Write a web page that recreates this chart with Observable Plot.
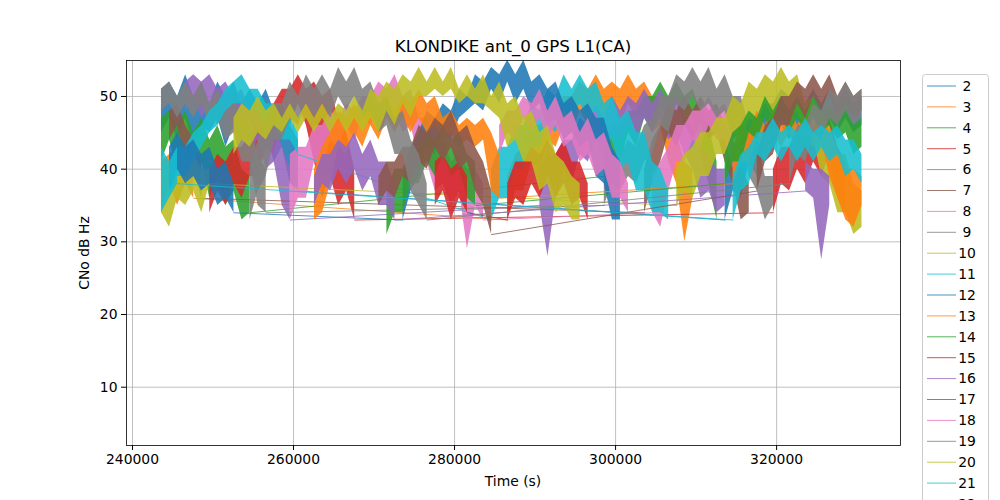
<!DOCTYPE html>
<html><head><meta charset="utf-8">
<script src="https://cdn.jsdelivr.net/npm/d3@7"></script>
<script src="https://cdn.jsdelivr.net/npm/@observablehq/plot@0.6"></script>
<style>
body{margin:0;background:#fff;}
#chart{position:relative;width:1000px;height:500px;overflow:hidden;}
</style></head><body><div id="chart"></div>
<script>
// Tick values
const xTicks = [240000, 260000, 280000, 300000, 320000];
const yTicks = [10, 20, 30, 40, 50];
const tab10 = ["#1f77b4","#ff7f0e","#2ca02c","#d62728","#9467bd","#8c564b","#e377c2","#7f7f7f","#bcbd22","#17becf"];
const legendPrns = d3.range(2, 23);

// Each PRN: passes [start time (s), upper CNo every 1000 s, lower CNo every 1000 s]
const prn02 = [[243600,[51,52,50,53,50,52,49,52,50,52,49,51,49,51,48,49,46,44],[45,47,44,47,43,46,45,47,43,46,44,47,43,45,41,43,38,37]],
               [313600,[40,43,44,47,47,49,49,51,50,51,49,51,49,51,49,51,49,50],[33,37,36,41,39,44,43,46,44,46,44,47,45,47,45,47,45,46]]];
const prn03 = [[243600,[41,42,40,42,39],[34,38,35,38,36]],
               [286600,[39,42,43,46,46,48,48,50,50,52,51,53,51,52,51,53,51,52,50,50,47,45,41,40],[33,37,37,41,40,44,43,46,45,48,46,49,47,49,46,49,47,48,45,46,41,38,30,36]]];
const prn04 = [[243600,[47,48,46,48,45,47,44,46,43,44,40,39],[41,44,40,42,39,41,36,39,35,37,33,34]],
               [298600,[44,46,46,48,48,50,50,52,50,52,50,51,48,46,41],[39,42,41,45,43,47,45,49,47,49,46,47,42,38,33]]];
const prn05 = [[249600,[40,42,41,43,43,45,46,48,49,51,51,53,51,52,50,51,47,45,40],[34,37,35,38,36,39,39,43,42,47,46,49,46,41,36,39,35,37,33]],
               [319600,[40,43,43,45,44,46,45,47,43,41],[34,38,37,40,38,41,39,42,36,34]]];
const prn06 = [[246600,[52,53,52,53,51,52,50,51,48,49,46,47,43,40],[48,50,47,49,46,48,45,46,43,44,40,41,35,33]],
               [290600,[40,42,42,44,44,47,46,49,47,50,48,50,49,51,49,51,49,50,47,46,43,42,40,40],[35,28,36,40,38,42,41,44,42,45,44,46,44,47,45,47,44,45,42,40,36,37,34,35]]];
const prn07 = [[244600,[48,49,46,44,41],[44,46,41,40,36]],
               [303600,[40,44,46,49,48,50,48,50,48,49,46,44,40,38],[34,38,41,45,43,46,44,46,44,45,41,38,33,34]]];
const prn08 = [[259600,[42,43,43,46,46,48,47,49,48,50,50,52,51,53,50,51,47,47,43,44,41,42,40,40,38],[33,36,36,41,40,44,43,46,44,47,46,49,47,48,45,46,41,41,37,38,35,37,29,35,33]],
               [304600,[39,41,43,46,46,48,48,50,48,49,46],[34,32,37,41,41,44,43,46,44,44,40]]];
const prn09 = [[243600,[51,52,50,52,50,52,49,51,48,50,47,46,42,40],[48,49,47,49,47,49,46,47,44,45,41,41,35,34]],
               [298600,[40,42,42,44,43,46,47,50,50,53,52,54,52,54,51,53,50,50,46,44,39,39],[35,38,37,39,38,41,42,46,45,49,48,50,48,49,47,48,44,45,39,37,33,35]]];
const prn10 = [[243600,[42,40,42,41,42,40,40],[34,32,36,35,37,34,38]],
               [307600,[40,42,43,45,45,47,47,50,49,52,51,53,52,54,52,53,49,50,46,46,42,42,38,37],[35,37,36,39,39,42,42,45,44,47,46,49,47,49,47,48,44,44,39,38,34,34,31,32]]];
const prn11 = [[244600,[42,43,43,45,46,48,49,51,52,53,51,51,49,49,47,47,45],[37,39,39,41,43,45,46,48,49,49,48,48,46,46,44,44,42]],
               [284600,[40,43,43,46,46,49,48,51,50,53,51,53,51,52,49,50,47,48,45,45,41,40,37],[33,36,36,40,40,43,43,46,45,48,47,49,47,48,44,44,40,41,37,37,34,34,33]]];
const prn12 = [[244600,[43,45,43,44,42,43,40,41,38],[37,40,38,39,37,38,35,36,34]],
               [273600,[39,43,45,48,47,49,48,51,50,53,52,54,53,55,53,55,52,53,51,52,49,50,48,49,47,47,43,41],[33,37,39,43,42,45,44,47,48,49,48,51,49,52,49,51,48,49,46,47,44,45,43,44,39,38,33,33]]];
const prn13 = [[262600,[40,43,45,48,47,49,47,50,48,50,48,50,49,51,49,50,47,48,46,47,46,47,45,42],[33,34,38,43,42,45,43,46,44,47,45,47,45,47,45,46,44,45,43,44,43,44,37,36]],
               [314600,[43,46,45,48,46,48,46,49,46,48,46,48,45,43,40,40,39],[38,41,41,44,42,45,43,45,42,44,43,44,39,36,33,32,35]]];
const prn14 = [[271600,[37,40,40,43,43,45,44,46,44,45,42,41],[31,34,34,38,38,41,39,42,39,40,36,35]],
               [313600,[42,45,46,48,47,50,48,50,48,50,48,50,48,49,47,49,46,47],[38,41,41,45,44,47,45,47,45,47,45,47,45,46,44,45,42,43]]];
const prn15 = [[277600,[41,42,40,41,39],[35,37,33,36,34]],
               [286600,[38,41,41,43,42,44,42,44,41,41,38],[33,36,35,38,36,39,36,38,35,36,33]]];
const prn16 = [[262600,[39,42,42,44,43,45,42,44,41,41,38],[35,38,37,40,38,40,37,39,35,35,33]],
               [323600,[41,40,40,39],[37,36,27.5,35]]];
const prn17 = [[270600,[39,41,41,43,43,46,45,47,46,48,45,46,43,41,37],[35,37,36,39,38,41,40,43,41,43,40,41,37,35,31]],
               [317600,[42,46,47,50,50,52,51,53,51,53,50,52,50,51],[37,41,42,46,46,49,47,50,48,50,47,49,47,48]]];
const prn18 = [[285600,[46,48,48,50,49,51,48,50,47,48,45,47,44,45,42,41,38],[42,45,44,47,45,47,44,46,43,44,41,42,39,40,36,36,34]]];
const prn19 = [[254600,[40,44,46,49,49,52,50,53,51,53,51,54,52,54,51,52,49,50,47,48,44,42,38],[33,37,39,44,44,47,46,49,47,49,47,50,48,50,47,48,45,46,42,42,37,35,33]],
               [321600,[43,46,46,49,48,51,50,52,50,51],[38,42,41,45,44,47,46,48,46,47]]];
const prn20 = [[252600,[47,49,48,50,48,49,47,49,47,49,47,49,47,49,48,50,48,51,50,52,51,53,52,54,52,54,52,54,51,53,51,53,50,52,49,50,47,48,45,46,42,41,39,38],
                       [42,44,43,45,44,46,45,47,45,47,45,47,45,47,45,47,45,47,45,48,46,49,47,50,50,51,50,51,49,50,49,49,48,47,43,44,41,41,37,38,34,35,33,33]]];
const prn21 = [[243600,[43,41,43],[34,36,38]],
               [314600,[39,42,43,45,45,47,45,46,45,47,45,46,45,46,44,44,42],[33,37,38,42,41,43,41,43,41,43,41,43,41,42,39,40,38]]];

const series = [[2,prn02],[3,prn03],[4,prn04],[5,prn05],[6,prn06],[7,prn07],[8,prn08],[9,prn09],[10,prn10],[11,prn11],
  [12,prn12],[13,prn13],[14,prn14],[15,prn15],[16,prn16],[17,prn17],[18,prn18],[19,prn19],[20,prn20],[21,prn21]];

const areaRows = [], linkRows = [];
series.forEach(([prn, passes]) => passes.forEach(([t0, hi, lo], p) => {
  hi.forEach((h, j) => areaRows.push({prn, pass: prn + "-" + p, t: t0 + 1000 * j, hi: h, lo: lo[j]}));
  // straight joins between the end of one pass and the start of the next
  if (p > 0) linkRows.push({prn, t: t0, v: lo[0]});
  if (p < passes.length - 1) linkRows.push({prn, t: t0 + 1000 * (hi.length - 1), v: lo[lo.length - 1]});
}));

const colorOf = p => tab10[(p - 2) % 10];
const font = '"DejaVu Sans", sans-serif';
const dataMarks = series.flatMap(([prn]) => [
  Plot.areaY(areaRows.filter(d => d.prn === prn), {x: "t", y1: "lo", y2: "hi", z: "pass", fill: colorOf(prn), fillOpacity: 0.88}),
  Plot.line(linkRows.filter(d => d.prn === prn), {x: "t", y: "v", stroke: colorOf(prn), strokeWidth: 1, strokeOpacity: 0.8})
]);

const svg = Plot.plot({
  width: 1000, height: 500,
  marginLeft: 126, marginRight: 100, marginTop: 60, marginBottom: 55,
  x: {domain: [239256, 335385]},
  y: {domain: [1.98, 54.95]},
  style: {fontFamily: font, fontSize: "13.9px", color: "black", background: "white", overflow: "hidden"},
  marks: [
    Plot.gridX(xTicks, {stroke: "#b0b0b0", strokeOpacity: 1, strokeWidth: 0.8}),
    Plot.gridY(yTicks, {stroke: "#b0b0b0", strokeOpacity: 1, strokeWidth: 0.8}),
    ...dataMarks,
    Plot.frame({stroke: "black", strokeWidth: 0.8}),
    Plot.axisX(xTicks, {tickFormat: d3.format("d"), tickSize: 5, tickPadding: 4, label: null, fontSize: 13.9}),
    Plot.axisY(yTicks, {tickSize: 5, tickPadding: 4, label: null, fontSize: 13.9})
  ]
});
document.getElementById("chart").appendChild(svg);

const s = d3.select(svg);
s.append("text").attr("x", 513).attr("y", 46).attr("dy", "0.35em").attr("text-anchor", "middle")
  .attr("font-family", font).attr("font-size", "16.7px").attr("fill", "black").text("KLONDIKE ant_0 GPS L1(CA)");
s.append("text").attr("x", 513).attr("y", 481).attr("dy", "0.35em").attr("text-anchor", "middle")
  .attr("font-family", font).attr("font-size", "13.9px").attr("fill", "black").text("Time (s)");
s.append("text").attr("transform", "translate(84,253) rotate(-90)").attr("dy", "0.35em").attr("text-anchor", "middle")
  .attr("font-family", font).attr("font-size", "13.9px").attr("fill", "black").text("CNo dB Hz");

const lg = s.append("g");
lg.append("rect").attr("x", 922.5).attr("y", 74.5).attr("width", 66).attr("height", 680).attr("rx", 3)
  .attr("fill", "white").attr("fill-opacity", 0.8).attr("stroke", "#cccccc");
legendPrns.forEach((p, k) => {
  const y = 86 + 20.9 * k;
  lg.append("line").attr("x1", 927).attr("x2", 956).attr("y1", y).attr("y2", y)
    .attr("stroke", colorOf(p)).attr("stroke-opacity", 0.8).attr("stroke-width", 1);
  lg.append("text").attr("x", 967).attr("y", y).attr("dy", "0.35em").attr("font-family", font)
    .attr("font-size", "13.9px").attr("fill", "black").text(String(p));
});
</script></body></html>
